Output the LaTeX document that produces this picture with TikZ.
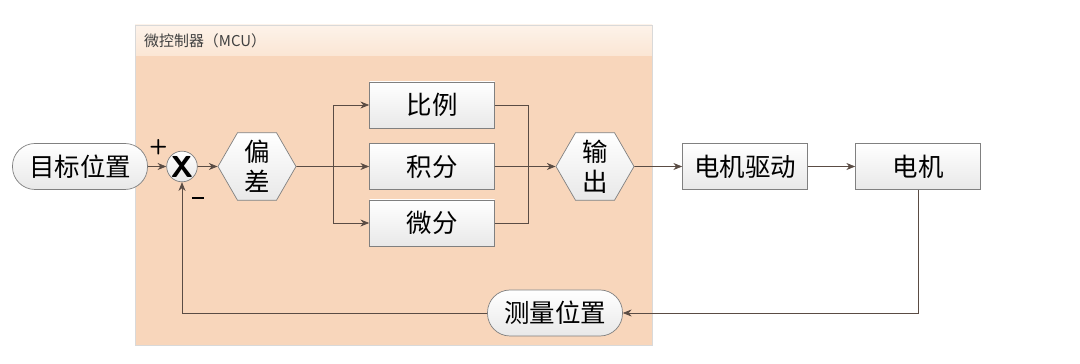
\documentclass[tikz,border=0pt]{standalone}
\usepackage{fontspec}
\usepackage{tikz}
\usetikzlibrary{arrows.meta,positioning,shapes.geometric}
\newfontfamily\cjk{Noto Sans CJK SC}
\definecolor{panelcol}{HTML}{F8D6BB}
\definecolor{titlecol}{HTML}{FBE6D4}
\definecolor{edgecol}{HTML}{808080}
\definecolor{linecol}{HTML}{5A4C44}

\begin{document}
\begin{tikzpicture}[
  >={Stealth[length=5pt,width=4pt]},
  blocknode/.style={draw=edgecol, top color=white, bottom color=gray!18,
                    minimum width=2.5cm, minimum height=0.92cm,
                    font=\cjk\fontsize{14.5}{17}\selectfont, inner sep=2pt},
  termnode/.style={draw=edgecol, rounded corners=0.45cm, top color=white, bottom color=gray!18,
                   minimum width=2.7cm, minimum height=0.92cm,
                   font=\cjk\fontsize{14.5}{17}\selectfont, inner sep=2pt},
  hexnode/.style={draw=edgecol, regular polygon, regular polygon sides=6,
                  minimum size=1.56cm, inner sep=-8pt, top color=white, bottom color=gray!18,
                  align=center, font=\cjk\fontsize{14.5}{17}\selectfont},
  sumnode/.style={draw=edgecol, circle, minimum size=0.56cm, inner sep=0pt,
                  top color=white, bottom color=gray!18, font=\sffamily\bfseries\LARGE},
  signlabel/.style={font=\sffamily\bfseries\large, inner sep=0pt},
  arr/.style={->, draw=linecol},
  wire/.style={draw=linecol},
]
\useasboundingbox (0,0) rectangle (21.6,7.28);

% MCU panel
\fill[panelcol] (2.70,0.38) rectangle (13.04,6.78);
\shade[top color=titlecol!50, bottom color=titlecol] (2.70,6.16) rectangle (13.04,6.78);
\draw[gray!30] (2.70,0.38) rectangle (13.04,6.78);
\node[anchor=west, font=\cjk\fontsize{8.5}{10}\selectfont, text=black!75] (MCU) at (2.76,6.46) {微控制器（MCU）};

% main row
\node[termnode]  (TGT) at (1.60, 3.95) {目标位置};
\node[sumnode]   (SUM) at (3.64, 3.95) {X};
\node[signlabel] (PLS) at (3.17, 4.33) {+};
\node[signlabel] (MNS) at (3.96, 3.32) {\rule{7pt}{1.6pt}};
\node[hexnode]   (DEV) at (5.14, 3.95) {偏\\差};

% PID branches
\node[blocknode] (KP) at (8.64, 5.18) {比例};
\node[blocknode] (KI) at (8.64, 3.95) {积分};
\node[blocknode] (KD) at (8.64, 2.82) {微分};
\coordinate (SPL) at (6.66, 3.95);
\coordinate (MRG) at (10.56, 3.95);

\node[hexnode]   (OUT) at (11.90, 3.95) {输\\出};
\node[blocknode] (DRV) at (14.90, 3.95) {电机驱动};
\node[blocknode] (MOT) at (18.36, 3.95) {电机};
\node[termnode]  (MEAS) at (11.10, 1.02) {测量位置};

% --- arrows ---
\draw[arr] (TGT) -- (SUM);
\draw[arr] (SUM) -- (DEV);
\draw[arr] (DEV.east) -- (KI.west);
\draw[arr] (SPL) |- (KP.west);
\draw[arr] (SPL) |- (KD.west);
\draw[wire] (KP.east) -| (MRG);
\draw[wire] (KD.east) -| (MRG);
\draw[arr] (KI.east) -- (OUT.west);
\draw[arr] (OUT) -- (DRV);
\draw[arr] (DRV) -- (MOT);
% feedback
\draw[arr] (MOT.south) |- (MEAS.east);
\draw[arr] (MEAS.west) -| (SUM.south);

\end{tikzpicture}
\end{document}
